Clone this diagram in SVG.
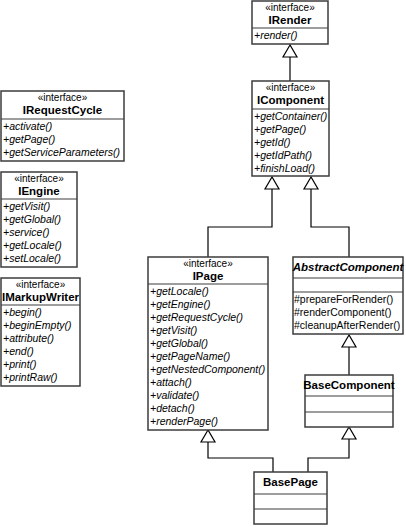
<svg xmlns="http://www.w3.org/2000/svg" width="406" height="527" viewBox="0 0 406 527">
<defs>
<style>
.box{fill:#fff;stroke:#3c3c3c;stroke-width:1.5}
.div{stroke:#3c3c3c;stroke-width:1.2}
.st{font-family:"Liberation Sans",Arial,sans-serif;font-size:10px;text-anchor:middle;fill:#000}
.nm{font-family:"Liberation Sans",Arial,sans-serif;font-size:11.5px;font-weight:bold;text-anchor:middle;fill:#000}
.m{font-family:"Liberation Sans",Arial,sans-serif;font-size:10.5px;font-style:italic;fill:#000}
.mr{font-family:"Liberation Sans",Arial,sans-serif;font-size:10.5px;fill:#000}
.ln{fill:none;stroke:#000;stroke-width:1.2}
.tri{fill:#fff;stroke:#000;stroke-width:1.2}
</style>
</defs>
<rect width="406" height="527" fill="#fff"/>
<g id="connectors">
<polyline class="ln" points="290,57 290,81"/>
<polygon class="tri" points="290,45 283,57 297,57"/>
<polyline class="ln" points="272,189 272,227 208,227 208,257"/>
<polygon class="tri" points="272,177 265,189 279,189"/>
<polyline class="ln" points="311,189 311,227 349,227 349,257"/>
<polygon class="tri" points="311,177 304,189 318,189"/>
<polyline class="ln" points="349,347 349,375"/>
<polygon class="tri" points="349,335 342,347 356,347"/>
<polyline class="ln" points="208,442 208,458 273,458 273,472"/>
<polygon class="tri" points="208,430 201,442 215,442"/>
<polyline class="ln" points="349,439 349,458 308,458 308,472"/>
<polygon class="tri" points="349,427 342,439 356,439"/>
</g>
<g id="IRender">
<rect class="box" x="252" y="1" width="76" height="43"/>
<line class="div" x1="252" y1="28" x2="328" y2="28"/>
<text class="st" x="290" y="11">«interface»</text>
<text class="nm" x="290" y="24">IRender</text>
<text class="m" x="254" y="39">+render()</text>
</g>
<g id="IComponent">
<rect class="box" x="252" y="81" width="77" height="95"/>
<line class="div" x1="252" y1="109" x2="329" y2="109"/>
<text class="st" x="290.5" y="91">«interface»</text>
<text class="nm" x="290.5" y="104">IComponent</text>
<text class="m" x="254" y="120">+getContainer()</text>
<text class="m" x="254" y="133">+getPage()</text>
<text class="m" x="254" y="146">+getId()</text>
<text class="m" x="254" y="159">+getIdPath()</text>
<text class="m" x="254" y="172">+finishLoad()</text>
</g>
<g id="IRequestCycle">
<rect class="box" x="1" y="91" width="123" height="70"/>
<line class="div" x1="1" y1="119" x2="124" y2="119"/>
<text class="st" x="62.5" y="101">«interface»</text>
<text class="nm" x="62.5" y="114">IRequestCycle</text>
<text class="m" x="3" y="130">+activate()</text>
<text class="m" x="3" y="143">+getPage()</text>
<text class="m" x="3" y="156">+getServiceParameters()</text>
</g>
<g id="IEngine">
<rect class="box" x="1" y="172" width="76" height="95"/>
<line class="div" x1="1" y1="199" x2="77" y2="199"/>
<text class="st" x="39" y="182">«interface»</text>
<text class="nm" x="39" y="195">IEngine</text>
<text class="m" x="3" y="210">+getVisit()</text>
<text class="m" x="3" y="223">+getGlobal()</text>
<text class="m" x="3" y="236">+service()</text>
<text class="m" x="3" y="249">+getLocale()</text>
<text class="m" x="3" y="262">+setLocale()</text>
</g>
<g id="IMarkupWriter">
<rect class="box" x="1" y="278" width="79" height="108"/>
<line class="div" x1="1" y1="305" x2="80" y2="305"/>
<text class="st" x="40.5" y="288">«interface»</text>
<text class="nm" x="40.5" y="301">IMarkupWriter</text>
<text class="m" x="3" y="316">+begin()</text>
<text class="m" x="3" y="329">+beginEmpty()</text>
<text class="m" x="3" y="342">+attribute()</text>
<text class="m" x="3" y="355">+end()</text>
<text class="m" x="3" y="368">+print()</text>
<text class="m" x="3" y="381">+printRaw()</text>
</g>
<g id="IPage">
<rect class="box" x="148" y="257" width="120" height="173"/>
<line class="div" x1="148" y1="284" x2="268" y2="284"/>
<text class="st" x="208" y="267">«interface»</text>
<text class="nm" x="208" y="280">IPage</text>
<text class="m" x="150" y="295">+getLocale()</text>
<text class="m" x="150" y="308">+getEngine()</text>
<text class="m" x="150" y="321">+getRequestCycle()</text>
<text class="m" x="150" y="334">+getVisit()</text>
<text class="m" x="150" y="347">+getGlobal()</text>
<text class="m" x="150" y="360">+getPageName()</text>
<text class="m" x="150" y="373">+getNestedComponent()</text>
<text class="m" x="150" y="386">+attach()</text>
<text class="m" x="150" y="399">+validate()</text>
<text class="m" x="150" y="412">+detach()</text>
<text class="m" x="150" y="425">+renderPage()</text>
</g>
<g id="AbstractComponent">
<rect class="box" x="293" y="257" width="110" height="77"/>
<line class="div" x1="293" y1="278" x2="403" y2="278"/>
<line class="div" x1="293" y1="292" x2="403" y2="292"/>
<text class="nm" x="348" y="271" font-style="italic">AbstractComponent</text>
<text class="mr" x="294" y="303">#prepareForRender()</text>
<text class="mr" x="294" y="316">#renderComponent()</text>
<text class="mr" x="294" y="329">#cleanupAfterRender()</text>
</g>
<g id="BaseComponent">
<rect class="box" x="305" y="375" width="88" height="52"/>
<line class="div" x1="305" y1="396" x2="393" y2="396"/>
<line class="div" x1="305" y1="412" x2="393" y2="412"/>
<text class="nm" x="349" y="389">BaseComponent</text>
</g>
<g id="BasePage">
<rect class="box" x="254" y="472" width="73" height="52"/>
<line class="div" x1="254" y1="494" x2="327" y2="494"/>
<line class="div" x1="254" y1="509" x2="327" y2="509"/>
<text class="nm" x="290.5" y="486">BasePage</text>
</g>
</svg>
